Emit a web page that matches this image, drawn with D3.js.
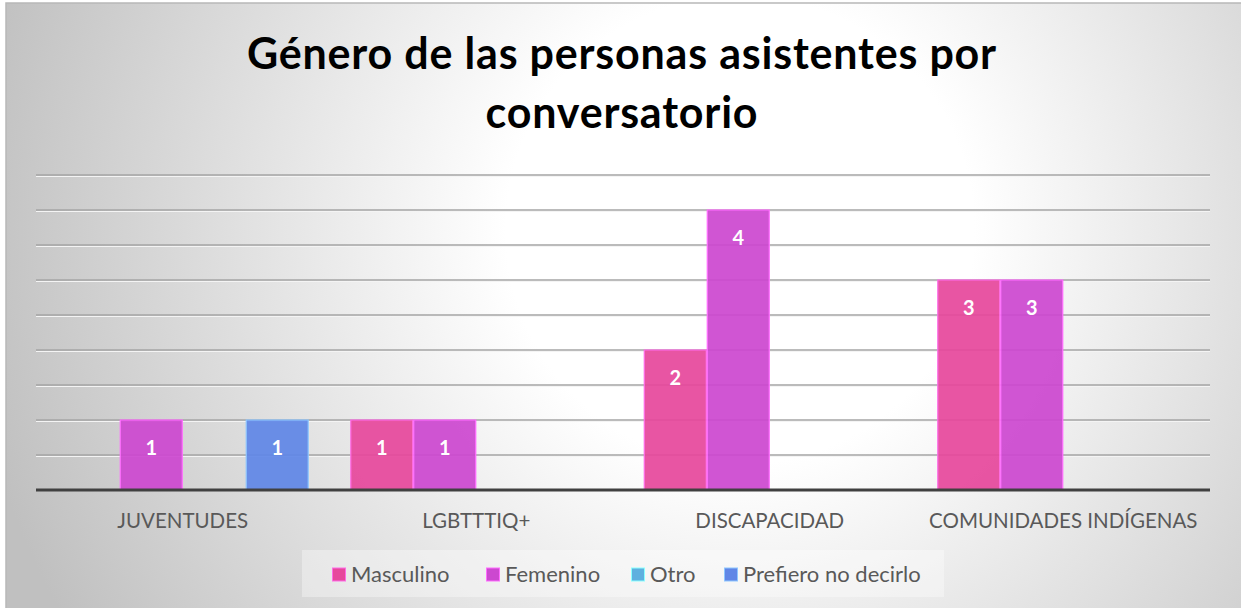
<!DOCTYPE html>
<html>
<head>
<meta charset="utf-8">
<script src="https://cdn.jsdelivr.net/npm/d3@7"></script>
<style>
  html, body { margin: 0; padding: 0; background: #ffffff; }
  svg { display: block; }
</style>
</head>
<body>
<svg id="chart" width="1241" height="608"></svg>
<script>
// categories and values
const categories = ['JUVENTUDES', 'LGBTTTIQ+', 'DISCAPACIDAD', 'COMUNIDADES INDÍGENAS'];
const series = ['Masculino', 'Femenino', 'Otro', 'Prefiero no decirlo'];
const masculino = [0, 1, 2, 3];
const femenino = [1, 1, 4, 3];
const otro = [0, 0, 0, 0];
const prefiero = [1, 0, 0, 0];
const gridTicks = [0.5, 1, 1.5, 2, 2.5, 3, 3.5, 4, 4.5];
const titleLines = ['Género de las personas asistentes por', 'conversatorio'];

const colors = ['#e6489c', '#cc48d0', '#5eb0df', '#6086e6'];
const values = [masculino, femenino, otro, prefiero];

const W = 1241, H = 608;
const svg = d3.select('#chart');

// background with radial shading
const defs = svg.append('defs');
const grad = defs.append('radialGradient')
  .attr('id', 'bg')
  .attr('gradientUnits', 'userSpaceOnUse')
  .attr('cx', 740).attr('cy', 230).attr('r', 780);
grad.append('stop').attr('offset', '0%').attr('stop-color', '#ffffff');
grad.append('stop').attr('offset', '30%').attr('stop-color', '#ffffff');
grad.append('stop').attr('offset', '100%').attr('stop-color', '#c0c0c0');

svg.append('rect')
  .attr('x', 6).attr('y', 3)
  .attr('width', W).attr('height', H)
  .attr('fill', 'url(#bg)')
  .attr('stroke', '#b8b8b8')
  .attr('stroke-width', 1.5);

// title
svg.append('g').selectAll('text')
  .data(titleLines)
  .enter().append('text')
  .attr('x', 622)
  .attr('y', (d, i) => 69 + i * 59)
  .attr('text-anchor', 'middle')
  .style('font-family', 'Lato, "Open Sans", sans-serif')
  .style('font-weight', 'bold')
  .style('font-size', '43px')
  .style('letter-spacing', '0.8px')
  .style('fill', '#000')
  .text(d => d);

const plotL = 36, plotR = 1210, plotT = 175, plotB = 490;

const x0 = d3.scaleBand().domain(categories).range([plotL, plotR]);
const x1 = d3.scaleBand().domain(series).range([0, x0.bandwidth()]).paddingOuter(0.33);
const y = d3.scaleLinear().domain([0, 4.5]).range([plotB, plotT]);

// gridlines
const grid = svg.append('g');
grid.selectAll('line.hl')
  .data(gridTicks)
  .enter().append('line')
  .attr('class', 'hl')
  .attr('x1', plotL).attr('x2', plotR)
  .attr('y1', d => y(d) + 1.5).attr('y2', d => y(d) + 1.5)
  .attr('stroke', '#f4f4f4').attr('stroke-width', 1);
grid.selectAll('line.gl')
  .data(gridTicks)
  .enter().append('line')
  .attr('class', 'gl')
  .attr('x1', plotL).attr('x2', plotR)
  .attr('y1', d => y(d)).attr('y2', d => y(d))
  .attr('stroke', '#a4a4a4').attr('stroke-width', 1.3);

// bars
const rows = [];
categories.forEach((c, ci) => {
  series.forEach((s, si) => {
    rows.push({ cat: c, ser: s, si: si, v: values[si][ci] });
  });
});
const bars = rows.filter(d => d.v > 0);

svg.append('g').selectAll('rect')
  .data(bars)
  .enter().append('rect')
  .attr('x', d => x0(d.cat) + x1(d.ser) + 0.5)
  .attr('y', d => y(d.v))
  .attr('width', x1.bandwidth() - 1)
  .attr('height', d => y(0) - y(d.v))
  .attr('fill', d => colors[d.si])
  .attr('fill-opacity', 0.93)
  .attr('stroke', d => d3.color(colors[d.si]).brighter(1.1))
  .attr('stroke-width', 1.2);

// data labels
svg.append('g').selectAll('text')
  .data(bars)
  .enter().append('text')
  .attr('x', d => x0(d.cat) + x1(d.ser) + x1.bandwidth() / 2)
  .attr('y', d => y(d.v) + 35)
  .attr('text-anchor', 'middle')
  .style('font-family', 'Lato, "Open Sans", sans-serif')
  .style('font-weight', 'bold')
  .style('font-size', '20px')
  .style('fill', '#ffffff')
  .text(d => d.v);

// x axis
const xAxis = d3.axisBottom(x0).tickSize(0);
const gx = svg.append('g')
  .attr('transform', `translate(0,${plotB})`)
  .call(xAxis);
gx.select('.domain').remove();
gx.selectAll('text')
  .attr('y', 38)
  .attr('dy', null)
  .style('font-family', 'Lato, "Open Sans", sans-serif')
  .style('font-size', '20.5px')
  .style('fill', '#595959');
svg.append('line')
  .attr('x1', plotL).attr('x2', plotR)
  .attr('y1', plotB).attr('y2', plotB)
  .attr('stroke', '#404040').attr('stroke-width', 3);

// legend
const lg = svg.append('g');
lg.append('rect')
  .attr('x', 302).attr('y', 550)
  .attr('width', 642).attr('height', 47)
  .attr('fill', '#ffffff').attr('fill-opacity', 0.35);
const legendX = [332, 486, 631, 724];
const items = lg.selectAll('g.item')
  .data(series)
  .enter().append('g')
  .attr('class', 'item')
  .attr('transform', (d, i) => `translate(${legendX[i]},574.5)`);
items.append('rect')
  .attr('x', 0.5).attr('y', -6.5)
  .attr('width', 13).attr('height', 13)
  .attr('fill', (d, i) => colors[i])
  .attr('stroke', (d, i) => d3.color(colors[i]).brighter(1.1))
  .attr('stroke-width', 1);
items.append('text')
  .attr('x', 19).attr('y', 7.5)
  .style('font-family', 'Lato, "Open Sans", sans-serif')
  .style('font-size', '22px')
  .style('fill', '#595959')
  .text(d => d);
</script>
</body>
</html>
